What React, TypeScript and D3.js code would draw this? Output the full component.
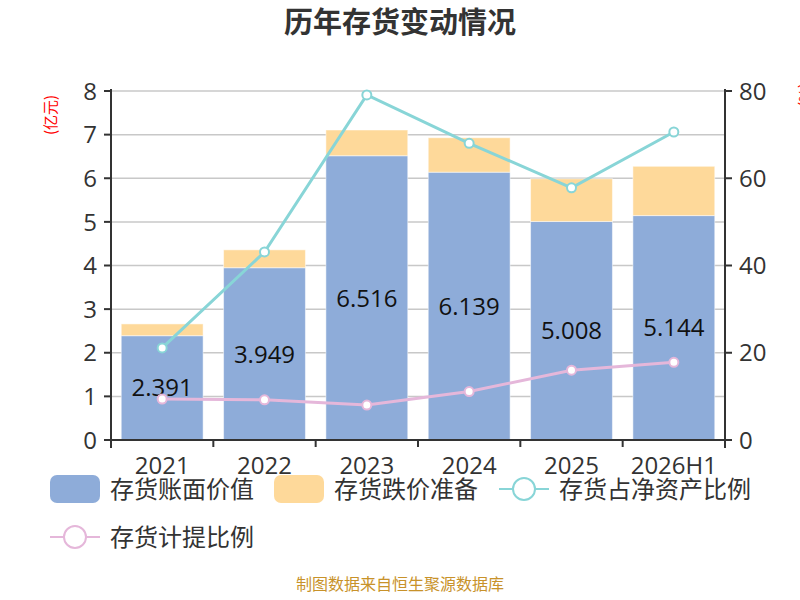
import React from "react";
import * as d3 from "d3";

const categories = ["2021", "2022", "2023", "2024", "2025", "2026H1"];
const bookValue = [2.391, 3.949, 6.516, 6.139, 5.008, 5.144];
const reserve = [0.27, 0.41, 0.59, 0.79, 0.98, 1.13];
const netAssetRatio = [21.1, 43.1, 79.1, 68.0, 57.8, 70.6];
const provisionRatio = [9.4, 9.2, 8.0, 11.1, 16.0, 17.8];
const leftTicks = [0, 1, 2, 3, 4, 5, 6, 7, 8];
const rightTicks = [0, 20, 40, 60, 80];

const W = 800;
const H = 600;
const left = 111;
const right = 725;
const top = 91;
const bottom = 440;

const BLUE = "#8eacd9";
const ORANGE = "#fed99a";
const TEAL = "#88d5d7";
const PINK = "#e5b7da";
const FONT = "'Open Sans', 'Noto Sans CJK SC', sans-serif";
const CJK = "'Noto Sans CJK SC', sans-serif";

export default function App() {
  const x = d3.scaleBand<string>().domain(categories).range([left, right]).paddingInner(0.2).paddingOuter(0.1);
  const y = d3.scaleLinear().domain([0, 8]).range([bottom, top]);
  const y2 = d3.scaleLinear().domain([0, 80]).range([bottom, top]);
  const line = d3
    .line<number>()
    .x((_, i) => (x(categories[i]) as number) + x.bandwidth() / 2)
    .y((d) => y2(d));
  const step = (right - left) / categories.length;

  return (
    <svg width={W} height={H} style={{ display: "block", position: "absolute", left: 0, top: 0 }} fontFamily={FONT}>
      <rect x={0} y={0} width={W} height={H} fill="#fff" />
      <text x={400} y={23} dy="0.36em" textAnchor="middle" fontSize={29} fontWeight="bold" fill="#333" fontFamily={CJK}>
        历年存货变动情况
      </text>
      {/* gridlines */}
      {leftTicks.map((t) => (
        <line key={t} x1={left} x2={right} y1={y(t)} y2={y(t)} stroke="#c8c8c8" strokeWidth={1.5} />
      ))}
      {/* bars */}
      {categories.map((c, i) => {
        const bx = x(c) as number;
        const bw = x.bandwidth();
        const total = bookValue[i] + reserve[i];
        return (
          <g key={c}>
            <rect x={bx} y={y(bookValue[i])} width={bw} height={y(0) - y(bookValue[i])} fill={BLUE} stroke="#fff" strokeOpacity={0.5} strokeWidth={1} />
            <rect x={bx} y={y(total)} width={bw} height={y(bookValue[i]) - y(total)} fill={ORANGE} stroke="#fff" strokeOpacity={0.5} strokeWidth={1} />
          </g>
        );
      })}
      {/* bar labels */}
      {categories.map((c, i) => (
        <text
          key={c}
          x={(x(c) as number) + x.bandwidth() / 2}
          y={(y(0) + y(bookValue[i])) / 2}
          dy="0.36em"
          textAnchor="middle"
          fontSize={24}
          fill="#111"
        >
          {bookValue[i].toFixed(3)}
        </text>
      ))}
      {/* lines */}
      <path d={line(netAssetRatio) || ""} fill="none" stroke={TEAL} strokeWidth={3} />
      <path d={line(provisionRatio) || ""} fill="none" stroke={PINK} strokeWidth={3} />
      {netAssetRatio.map((v, i) => (
        <circle key={"a" + i} cx={(x(categories[i]) as number) + x.bandwidth() / 2} cy={y2(v)} r={4.5} fill="#fff" stroke={TEAL} strokeWidth={2} />
      ))}
      {provisionRatio.map((v, i) => (
        <circle key={"b" + i} cx={(x(categories[i]) as number) + x.bandwidth() / 2} cy={y2(v)} r={4.5} fill="#fff" stroke={PINK} strokeWidth={2} />
      ))}
      {/* left axis */}
      <line x1={left} x2={left} y1={top - 2} y2={bottom + 8} stroke="#333" strokeWidth={2} />
      {leftTicks.map((t) => (
        <g key={t}>
          <line x1={left - 7} x2={left} y1={y(t)} y2={y(t)} stroke="#333" strokeWidth={2} />
          <text x={left - 14} y={y(t)} dy="0.36em" textAnchor="end" fontSize={24} fill="#333">
            {t}
          </text>
        </g>
      ))}
      {/* right axis */}
      <line x1={right} x2={right} y1={top - 2} y2={bottom + 8} stroke="#333" strokeWidth={2} />
      {rightTicks.map((t) => (
        <g key={t}>
          <line x1={right} x2={right + 7} y1={y2(t)} y2={y2(t)} stroke="#333" strokeWidth={2} />
          <text x={right + 14} y={y2(t)} dy="0.36em" textAnchor="start" fontSize={24} fill="#333">
            {t}
          </text>
        </g>
      ))}
      {/* x axis */}
      <line x1={left} x2={right} y1={bottom} y2={bottom} stroke="#333" strokeWidth={2} />
      {d3.range(categories.length + 1).map((i) => (
        <line key={i} x1={left + i * step} x2={left + i * step} y1={bottom} y2={bottom + 7} stroke="#333" strokeWidth={2} />
      ))}
      {categories.map((c) => (
        <text key={c} x={(x(c) as number) + x.bandwidth() / 2} y={474} textAnchor="middle" fontSize={24} fill="#333">
          {c}
        </text>
      ))}
      {/* unit labels */}
      <text transform={`translate(49,115) rotate(-90)`} textAnchor="middle" dominantBaseline="central" fontSize={15} fill="#ff0000" fontFamily={CJK}>
        (亿元)
      </text>
      <text transform={`translate(803,95) rotate(-90)`} textAnchor="middle" dominantBaseline="central" fontSize={15} fill="#ff0000" fontFamily={CJK}>
        (%)
      </text>
      {/* legend */}
      <rect x={50} y={475} width={50} height={28} rx={7} fill={BLUE} />
      <text x={110} y={489} dy="0.36em" fontSize={24} fill="#333" fontFamily={CJK}>存货账面价值</text>
      <rect x={274} y={475} width={50} height={28} rx={7} fill={ORANGE} />
      <text x={334} y={489} dy="0.36em" fontSize={24} fill="#333" fontFamily={CJK}>存货跌价准备</text>
      <line x1={499} x2={549} y1={489} y2={489} stroke={TEAL} strokeWidth={2} />
      <circle cx={524} cy={489} r={11} fill="#fff" stroke={TEAL} strokeWidth={2} />
      <text x={559} y={489} dy="0.36em" fontSize={24} fill="#333" fontFamily={CJK}>存货占净资产比例</text>
      <line x1={50} x2={100} y1={537} y2={537} stroke={PINK} strokeWidth={2} />
      <circle cx={75} cy={537} r={11} fill="#fff" stroke={PINK} strokeWidth={2} />
      <text x={110} y={537} dy="0.36em" fontSize={24} fill="#333" fontFamily={CJK}>存货计提比例</text>
      {/* source */}
      <text x={400} y={590} textAnchor="middle" fontSize={16} fill="#c8922a" fontFamily={CJK}>
        制图数据来自恒生聚源数据库
      </text>
    </svg>
  );
}
